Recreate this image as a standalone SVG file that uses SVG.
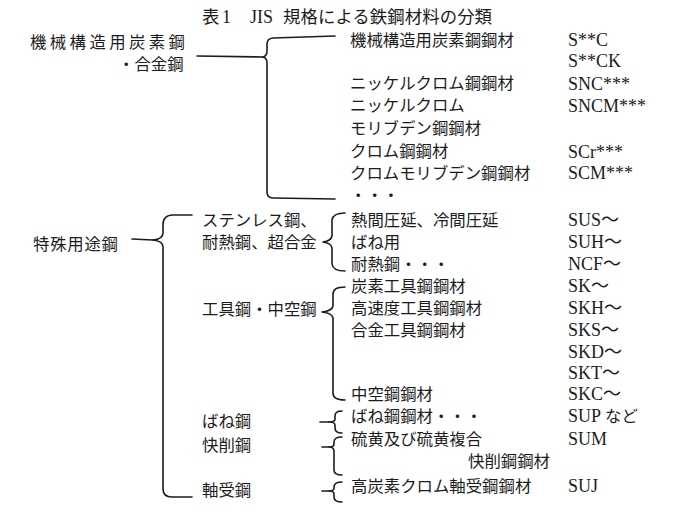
<svg xmlns="http://www.w3.org/2000/svg" width="700" height="512" viewBox="0 0 700 512">
<style>
.j{font-family:"Noto Sans CJK JP","Noto Sans",sans-serif;font-size:16.4px;fill:#1c1c1c}
.c{font-family:"Liberation Serif","Noto Sans CJK JP",serif;font-size:18px;fill:#1c1c1c}
.b{fill:none;stroke:#1c1c1c;stroke-width:1.6;stroke-linejoin:round;stroke-linecap:round}
</style>
<rect width="700" height="512" fill="#fff"/>
<g id="title">
<text x="202" y="23" class="j" style="font-size:17.4px">表</text>
<text x="222" y="23" class="c">1</text>
<text x="250" y="23" class="c">JIS</text>
<text x="283" y="23" class="j" style="font-size:17.4px" textLength="209" lengthAdjust="spacing">規格による鉄鋼材料の分類</text>
</g>
<g id="connectors">
<path class="b" d="M197,56 L263,57"/>
<path class="b" d="M335,36 L273,38 Q267,38.5 267,44 L267,51 Q267,56 263,57 Q267,58 267,63 L267,192 Q267,198 273,198 L335,199"/>
<path class="b" d="M132,239 L153,240"/>
<path class="b" d="M192,215 L173,215 Q163,215 163,225 L163,233 Q163,239 153,240 Q163,241 163,247 L163,489 Q163,497 172,497 L192,497"/>
<path class="b" d="M345,213 Q333,213 332,220 L332,236 Q331,241 323,242 Q331,243 332,248 L332,264 Q333,271 345,271"/>
<path class="b" d="M345,287 Q333,287 333,294 L333,306 Q332,311 322,312 Q332,313 333,318 L333,393 Q333,400 345,400"/>
<path class="b" d="M320,422 L329,422"/>
<path class="b" d="M342,411 Q335,411 335,416 L335,419 Q335,422 329,422 Q335,422 335,425 L335,428 Q335,433 342,433"/>
<path class="b" d="M322,447 L329,447"/>
<path class="b" d="M342,437 Q334,437 334,442 L334,444 Q334,447 329,447 Q334,447 334,451 L334,470 Q334,475 342,475"/>
<path class="b" d="M322,491 L329,491"/>
<path class="b" d="M342,482 Q334,482 334,487 L334,488 Q334,491 329,491 Q334,491 334,494 L334,497 Q334,502 342,502"/>
</g>
<g id="n-kikai"><text x="30" y="48" class="j" textLength="155" lengthAdjust="spacing">機械構造用炭素鋼</text><text x="118" y="70" class="j">・合金鋼</text></g>
<g id="n-tokushu"><text x="33" y="249.5" class="j" textLength="85" lengthAdjust="spacing">特殊用途鋼</text></g>
<g id="n-stainless"><text x="202" y="226" class="j">ステンレス鋼、</text><text x="202" y="248" class="j">耐熱鋼、超合金</text></g>
<g id="n-kougu"><text x="202" y="315" class="j">工具鋼・中空鋼</text></g>
<g id="n-bane"><text x="202" y="427" class="j">ばね鋼</text></g>
<g id="n-kaisaku"><text x="202" y="451" class="j">快削鋼</text></g>
<g id="n-jikuuke"><text x="202" y="496" class="j">軸受鋼</text></g>
<g id="n-m1"><text x="350" y="46" class="j">機械構造用炭素鋼鋼材</text><text x="568" y="45.5" class="c">S**C</text><text x="568" y="67" class="c">S**CK</text></g>
<g id="n-m2"><text x="350" y="89.3" class="j">ニッケルクロム鋼鋼材</text><text x="568" y="89.5" class="c">SNC***</text></g>
<g id="n-m3"><text x="350" y="111.3" class="j">ニッケルクロム</text><text x="350" y="134.3" class="j">モリブデン鋼鋼材</text><text x="568" y="111.5" class="c">SNCM***</text></g>
<g id="n-m4"><text x="350" y="157.3" class="j">クロム鋼鋼材</text><text x="568" y="157.5" class="c">SCr***</text></g>
<g id="n-m5"><text x="350" y="179.3" class="j">クロムモリブデン鋼鋼材</text><text x="568" y="179" class="c">SCM***</text></g>
<g id="n-m6"><text x="350" y="201.3" class="j">・・・</text></g>
<g id="n-s1"><text x="351" y="226" class="j">熱間圧延、冷間圧延</text><text x="568" y="226" class="c">SUS～</text></g>
<g id="n-s2"><text x="351" y="248" class="j">ばね用</text><text x="568" y="248" class="c">SUH～</text></g>
<g id="n-s3"><text x="351" y="270" class="j">耐熱鋼・・・</text><text x="568" y="270" class="c">NCF～</text></g>
<g id="n-t1"><text x="351" y="292" class="j">炭素工具鋼鋼材</text><text x="568" y="292" class="c">SK～</text></g>
<g id="n-t2"><text x="351" y="314" class="j">高速度工具鋼鋼材</text><text x="568" y="314" class="c">SKH～</text></g>
<g id="n-t3"><text x="351" y="336" class="j">合金工具鋼鋼材</text><text x="568" y="336" class="c">SKS～</text><text x="568" y="357.5" class="c">SKD～</text><text x="568" y="379" class="c">SKT～</text></g>
<g id="n-t4"><text x="351" y="400" class="j">中空鋼鋼材</text><text x="568" y="400" class="c">SKC～</text></g>
<g id="n-b1"><text x="351" y="422" class="j">ばね鋼鋼材・・・</text><text x="568" y="422" class="c">SUP</text><text x="605" y="422" class="j">など</text></g>
<g id="n-k1"><text x="351" y="444.5" class="j">硫黄及び硫黄複合</text><text x="468" y="467" class="j">快削鋼鋼材</text><text x="568" y="444.5" class="c">SUM</text></g>
<g id="n-j1"><text x="351" y="492" class="j">高炭素クロム軸受鋼鋼材</text><text x="568" y="492" class="c">SUJ</text></g>
</svg>
